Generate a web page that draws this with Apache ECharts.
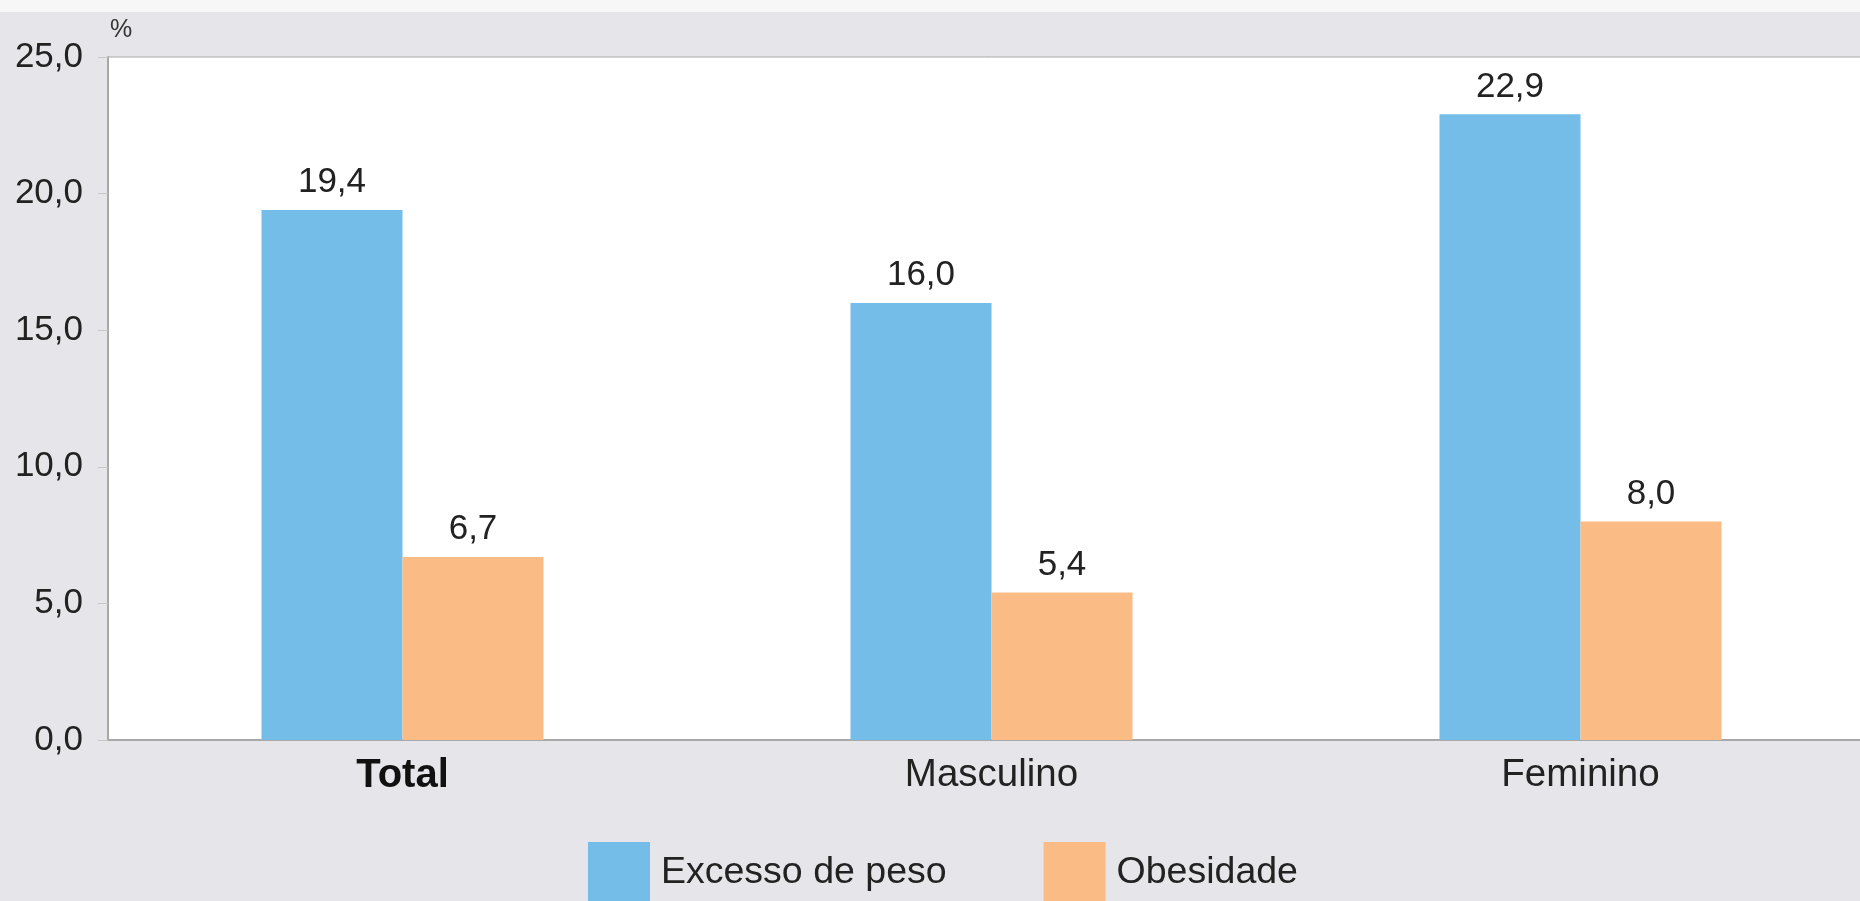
<!DOCTYPE html>
<html>
<head>
<meta charset="utf-8">
<script src="https://cdn.jsdelivr.net/npm/echarts@6/dist/echarts.min.js"></script>
<style>
  html, body { margin: 0; padding: 0; background: #e6e6ea; overflow: hidden; }
  #chart { width: 1880px; height: 901px; }
</style>
</head>
<body>
<div id="chart"></div>
<script>
  // categorias e valores (%)
  var categorias = ['Total', 'Masculino', 'Feminino'];
  var excessoPeso = [19.4, 16.0, 22.9];
  var obesidade = [6.7, 5.4, 8.0];
  var nomes = ['Excesso de peso', 'Obesidade'];

  var fmt = function (v) {
    return Number(v).toFixed(1).replace('.', ',');
  };

  var fonte = '"Liberation Sans", Arial, sans-serif';

  var chart = echarts.init(document.getElementById('chart'));

  var rotulo = {
    show: true,
    position: 'top',
    distance: 10,
    fontSize: 35,
    color: '#222',
    formatter: function (p) { return fmt(p.value); }
  };

  chart.setOption({
    backgroundColor: '#e6e6ea',
    color: ['#74bde8', '#fbbb85'],
    textStyle: { fontFamily: fonte },
    graphic: [
      {
        type: 'rect',
        shape: { x: 0, y: 0, width: 1880, height: 12 },
        style: { fill: '#f7f7f7' },
        silent: true
      }
    ],
    legend: {
      data: nomes,
      left: 583,
      top: 837,
      itemWidth: 62,
      itemHeight: 62,
      itemGap: 97,
      icon: 'rect',
      textStyle: { fontSize: 37.5, color: '#222', padding: [0, 0, 0, 6] }
    },
    grid: {
      left: 108,
      top: 57,
      width: 1767,
      height: 683,
      show: true,
      backgroundColor: '#ffffff',
      borderColor: '#aaaaaa',
      borderWidth: 1
    },
    xAxis: {
      type: 'category',
      data: categorias,
      axisLine: { lineStyle: { color: '#a8a8a8', width: 2 } },
      axisTick: { show: false },
      axisLabel: {
        margin: 16,
        fontSize: 38.5,
        color: '#222',
        formatter: function (v) {
          return v === 'Total' ? '{b|' + v + '}' : v;
        },
        rich: {
          b: { fontSize: 40, fontWeight: 'bold', color: '#111' }
        }
      }
    },
    yAxis: {
      type: 'value',
      min: 0,
      max: 25,
      interval: 5,
      name: '%',
      nameLocation: 'end',
      nameGap: 14,
      nameTextStyle: { fontSize: 25, color: '#333', align: 'left', padding: [0, 0, 0, 2] },
      axisLine: { show: true, lineStyle: { color: '#a8a8a8', width: 2 } },
      axisTick: { show: true, length: 10, lineStyle: { color: '#c8c8c8' } },
      splitLine: { show: false },
      axisLabel: {
        margin: 25,
        fontSize: 35,
        color: '#222',
        formatter: fmt
      }
    },
    series: [
      {
        name: nomes[0],
        type: 'bar',
        data: excessoPeso,
        barWidth: 141,
        barGap: '0%',
        label: rotulo
      },
      {
        name: nomes[1],
        type: 'bar',
        data: obesidade,
        barWidth: 141,
        barGap: '0%',
        label: rotulo
      }
    ]
  });
</script>
</body>
</html>
